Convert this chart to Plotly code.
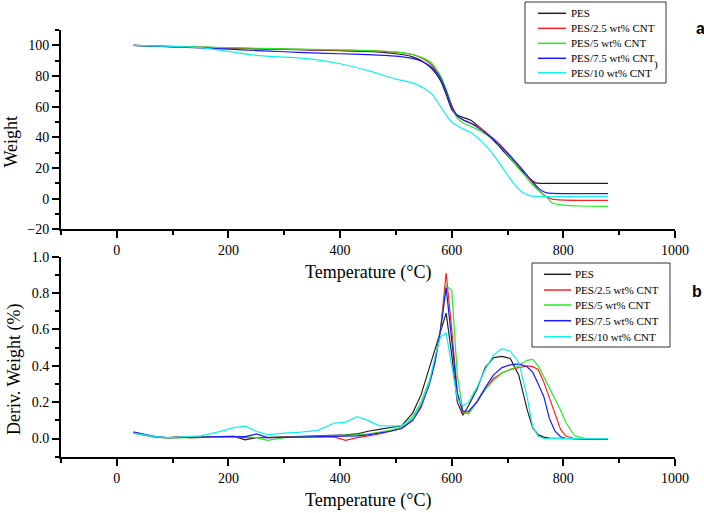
import plotly.graph_objects as go

# ---------------- data ----------------
series_names = ["PES", "PES/2.5 wt% CNT", "PES/5 wt% CNT", "PES/7.5 wt% CNT", "PES/10 wt% CNT"]
series_colors = ["#222222", "#ff2020", "#22ee22", "#1a1aff", "#11f0f0"]

# TGA (panel a)
tga_temp = [30, 100, 150, 200, 250, 300, 350, 400, 450, 500, 530, 550, 565, 580, 590, 600, 610, 620,
            635, 650, 665, 680, 695, 710, 725, 740, 750, 760, 770, 780, 800, 830, 880]
tga_pes = [100, 99.2, 98.7, 98.2, 97.7, 97.3, 96.9, 96.5, 96.0, 94.5, 92.5, 89.0, 84.5, 77.0, 68.0, 58.0,
           54.5, 53.0, 51.0, 46.5, 41.5, 36.0, 30.0, 24.0, 18.5, 13.0, 10.3, 10.0, 10.0, 10.0, 10.0, 10.0, 10.0]
tga_25 = [100, 99.2, 98.8, 98.3, 97.9, 97.5, 97.1, 96.8, 96.5, 95.5, 94.0, 91.0, 87.0, 79.5, 71.0, 61.0,
          54.0, 51.5, 49.0, 46.5, 42.0, 37.5, 32.0, 26.0, 19.5, 12.5, 8.0, 4.0, 1.2, -0.3, -1.0, -1.1, -1.1]
tga_5 = [100, 99.3, 98.9, 98.5, 98.1, 97.7, 97.3, 97.0, 96.6, 95.7, 94.0, 91.5, 88.0, 80.0, 71.0, 60.0,
         52.5, 49.5, 47.0, 44.5, 41.0, 37.0, 31.0, 24.0, 17.5, 11.0, 7.0, 3.8, 1.0, -2.8, -4.2, -4.8, -5.0]
tga_75 = [100, 99.0, 98.3, 97.5, 96.6, 95.8, 95.1, 94.5, 94.0, 93.0, 91.5, 89.0, 85.5, 78.5, 70.0, 60.0,
          54.0, 51.5, 49.0, 45.5, 41.5, 37.0, 31.5, 25.5, 19.5, 13.0, 9.0, 5.5, 3.8, 3.4, 3.3, 3.3, 3.3]
tga_10 = [100, 99.3, 98.5, 96.0, 93.5, 92.3, 91.0, 88.0, 83.5, 78.0, 75.5, 72.0, 68.0, 60.0, 54.5, 50.0,
          47.5, 45.5, 43.0, 38.5, 33.0, 26.0, 18.0, 10.5, 4.5, 2.0, 1.5, 1.4, 1.4, 1.4, 1.4, 1.4, 1.4]

# DTG (panel b)
dtg_temp = [30, 50, 70, 90, 110, 130, 150, 180, 210, 230, 250, 270, 300, 330, 360, 390, 410, 430, 450, 470,
            490, 510, 530, 545, 560, 570, 580, 590, 600, 610, 620, 630, 645, 660, 675, 690, 705, 720, 735, 745,
            755, 765, 775, 785, 795, 805, 820, 840, 880]
dtg_pes = [0.03, 0.02, 0.008, 0.005, 0.005, 0.006, 0.008, 0.01, 0.012, -0.007, 0.005, 0.005, 0.008, 0.01, 0.012,
           0.015, 0.02, 0.025, 0.04, 0.05, 0.058, 0.07, 0.14, 0.24, 0.39, 0.49, 0.60, 0.69, 0.46, 0.20, 0.128,
           0.18, 0.27, 0.39, 0.445, 0.452, 0.44, 0.35, 0.16, 0.06, 0.02, 0.008, 0.002, 0.0, 0.0, 0.0, 0.0, 0.0, 0.0]
dtg_25 = [0.035, 0.02, 0.008, 0.004, 0.01, 0.004, 0.005, 0.008, 0.012, 0.005, 0.005, 0.006, 0.006, 0.008, 0.01,
          0.008, -0.01, 0.005, 0.015, 0.025, 0.04, 0.055, 0.10, 0.17, 0.30, 0.42, 0.60, 0.91, 0.60, 0.25, 0.14,
          0.14, 0.20, 0.27, 0.33, 0.36, 0.38, 0.39, 0.40, 0.395, 0.38, 0.31, 0.22, 0.13, 0.05, 0.012, 0.0,
          -0.003, -0.003]
dtg_5 = [0.03, 0.018, 0.008, 0.004, 0.004, 0.005, 0.006, 0.008, 0.01, 0.01, 0.005, -0.01, 0.005, 0.008, 0.01,
         0.012, 0.015, 0.02, 0.025, 0.035, 0.045, 0.065, 0.12, 0.20, 0.32, 0.43, 0.60, 0.84, 0.815, 0.35, 0.15,
         0.135, 0.20, 0.27, 0.32, 0.36, 0.38, 0.40, 0.43, 0.435, 0.40, 0.34, 0.28, 0.22, 0.155, 0.085, 0.015,
         0.0, -0.003]
dtg_75 = [0.035, 0.022, 0.01, 0.005, 0.005, 0.005, 0.007, 0.01, 0.012, 0.01, 0.025, 0.005, 0.006, 0.008, 0.01,
          0.01, 0.012, 0.015, 0.02, 0.03, 0.04, 0.055, 0.10, 0.18, 0.30, 0.42, 0.60, 0.83, 0.55, 0.25, 0.15,
          0.15, 0.20, 0.28, 0.35, 0.39, 0.405, 0.41, 0.395, 0.365, 0.30, 0.23, 0.11, 0.04, 0.01, 0.0, -0.002,
          -0.002, -0.002]
dtg_10 = [0.03, 0.02, 0.01, 0.005, 0.007, 0.01, 0.015, 0.035, 0.06, 0.068, 0.04, 0.02, 0.03, 0.035, 0.045,
          0.085, 0.09, 0.12, 0.10, 0.07, 0.068, 0.07, 0.11, 0.19, 0.31, 0.45, 0.56, 0.58, 0.40, 0.22, 0.18,
          0.20, 0.28, 0.38, 0.46, 0.494, 0.48, 0.42, 0.23, 0.065, 0.012, 0.0, 0.0, 0.0, 0.0, 0.0, 0.0, 0.0, 0.0]

tga_series = [tga_pes, tga_25, tga_5, tga_75, tga_10]
dtg_series = [dtg_pes, dtg_25, dtg_5, dtg_75, dtg_10]

# ---------------- figure ----------------
W, H = 704, 513
SERIF = "Liberation Serif"


def px(x):
    return x / W


def py(y):
    return 1 - y / H


fig = go.Figure()
for name, col, ys in zip(series_names, series_colors, tga_series):
    fig.add_trace(go.Scatter(x=tga_temp, y=ys, mode="lines", name=name, showlegend=False,
                             line=dict(color=col, width=1.2, shape="spline", smoothing=0.5),
                             xaxis="x", yaxis="y"))
for name, col, ys in zip(series_names, series_colors, dtg_series):
    fig.add_trace(go.Scatter(x=dtg_temp, y=ys, mode="lines", name=name, showlegend=False,
                             line=dict(color=col, width=1.2),
                             xaxis="x2", yaxis="y2"))

axis_common = dict(showline=True, linewidth=2, linecolor="black", ticks="outside", ticklen=7,
                   tickwidth=2, tickcolor="black", showgrid=False, zeroline=False, automargin=False,
                   tickfont=dict(family=SERIF, size=14, color="black"))
minor_common = dict(ticks="outside", ticklen=4, tickwidth=2, tickcolor="black")
xdom = [px(61), px(675)]

fig.update_layout(
    template="none",
    width=W, height=H, autosize=False, margin=dict(l=0, r=0, t=0, b=0, pad=0),
    paper_bgcolor="white", plot_bgcolor="white", showlegend=False,
    xaxis=dict(domain=xdom, range=[-100, 1000], anchor="y", tick0=0, dtick=200,
               minor=dict(dtick=100, tick0=0, **minor_common), **axis_common),
    yaxis=dict(domain=[py(229.3), py(30)], range=[-20, 110], anchor="x", tick0=0, dtick=20,
               minor=dict(dtick=10, tick0=0, **minor_common), **axis_common),
    xaxis2=dict(domain=xdom, range=[-100, 1000], anchor="y2", tick0=0, dtick=200,
                minor=dict(dtick=100, tick0=0, **minor_common), **axis_common),
    yaxis2=dict(domain=[py(456.7), py(256.7)], range=[-0.1, 1.0], anchor="x2", tick0=0, dtick=0.2,
                tickformat=".1f", minor=dict(dtick=0.1, tick0=0, **minor_common), **axis_common),
)

title_font = dict(family=SERIF, size=18, color="black")
annotations = [
    dict(text="Weight", x=px(10.5), y=py(142), textangle=-90, font=title_font),
    dict(text="Deriv. Weight (%)", x=px(14), y=py(369), textangle=-90, font=title_font),
    dict(text="Temperature (°C)", x=px(368), y=py(272), font=title_font),
    dict(text="Temperature (°C)", x=px(368), y=py(500), font=title_font),
    dict(text="<b>a</b>", x=px(700), y=py(28), font=dict(family="Liberation Sans", size=16, color="black")),
    dict(text="<b>b</b>", x=px(697), y=py(291), font=dict(family="Liberation Sans", size=16, color="black")),
    dict(text=")", x=px(656), y=py(64), font=dict(family=SERIF, size=11, color="black")),
]
shapes = []

# manual legends
legend_boxes = [
    dict(box=(525, 2, 666, 83), line_x=(538, 566), text_x=569, ys=[13.3, 28.3, 43.3, 58.3, 72.7]),
    dict(box=(532, 263, 670, 347), line_x=(544, 571), text_x=573, ys=[274.3, 290, 305, 320.7, 336.7]),
]
for lg in legend_boxes:
    x0, y0, x1, y1 = lg["box"]
    shapes.append(dict(type="rect", xref="paper", yref="paper", x0=px(x0), x1=px(x1), y0=py(y1), y1=py(y0),
                       line=dict(color="#333333", width=1), fillcolor="white", layer="above"))
    for name, col, yy in zip(series_names, series_colors, lg["ys"]):
        shapes.append(dict(type="line", xref="paper", yref="paper", x0=px(lg["line_x"][0]), x1=px(lg["line_x"][1]),
                           y0=py(yy), y1=py(yy), line=dict(color=col, width=1.5), layer="above"))
        annotations.append(dict(text=name, x=px(lg["text_x"]), y=py(yy), xanchor="left",
                                font=dict(family=SERIF, size=11, color="black")))

for a in annotations:
    a.setdefault("xref", "paper")
    a.setdefault("yref", "paper")
    a.setdefault("showarrow", False)
    a.setdefault("xanchor", "center")
    a.setdefault("yanchor", "middle")

fig.update_layout(annotations=annotations, shapes=shapes)
fig.write_html("out.html", config={"displayModeBar": False},
               post_script="document.body.style.margin='0';document.body.style.overflow='hidden';")
